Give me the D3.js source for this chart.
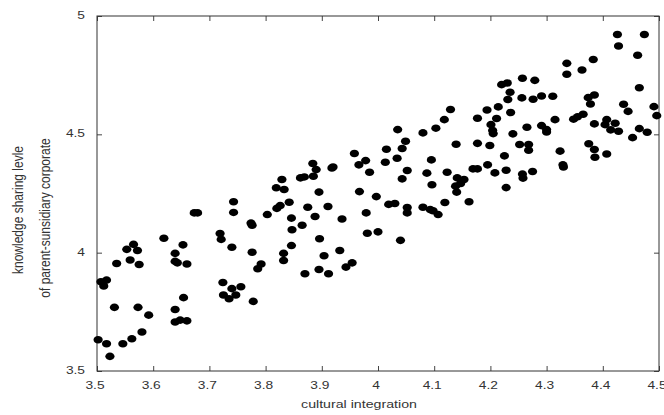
<!DOCTYPE html>
<html>
<head>
<meta charset="utf-8">
<script src="https://cdn.jsdelivr.net/npm/d3@7"></script>
<style>
  body { margin: 0; background: #fff; }
  text { font-family: "Liberation Sans", Arial, sans-serif; fill: #333; }
</style>
</head>
<body>
<svg id="chart" width="664" height="415"></svg>
<script>
// cultural integration (x)
var integration = [
  3.502, 3.517, 3.523, 3.507, 3.512, 3.517, 3.531, 3.535, 3.546, 3.553,
  3.559, 3.565, 3.562, 3.572, 3.573, 3.575, 3.580, 3.592, 3.619, 3.639,
  3.639, 3.639, 3.639, 3.643, 3.648, 3.653, 3.654, 3.660, 3.660, 3.673,
  3.679, 3.719, 3.721, 3.724, 3.725, 3.735, 3.740, 3.743, 3.743, 3.740,
  3.747, 3.756, 3.774, 3.776, 3.776, 3.778, 3.786, 3.792, 3.803, 3.820,
  3.819, 3.829, 3.826, 3.833, 3.832, 3.832, 3.842, 3.846, 3.847, 3.846,
  3.865, 3.862, 3.869, 3.870, 3.875, 3.884, 3.885, 3.890, 3.888, 3.895,
  3.896, 3.895, 3.904, 3.911, 3.912, 3.918, 3.920, 3.936, 3.932, 3.943,
  3.954, 3.958, 3.966, 3.967, 3.978, 3.979, 3.981, 3.985, 3.997, 4.000,
  4.013, 4.015, 4.019, 4.030, 4.034, 4.035, 4.040, 4.043, 4.043, 4.049,
  4.052, 4.052, 4.052, 4.080, 4.080, 4.087, 4.093, 4.095, 4.096, 4.098,
  4.103, 4.107, 4.118, 4.119, 4.123, 4.129, 4.138, 4.139, 4.140, 4.141,
  4.147, 4.153, 4.162, 4.169, 4.177, 4.177, 4.177, 4.194, 4.195, 4.199,
  4.201, 4.204, 4.205, 4.208, 4.211, 4.214, 4.220, 4.225, 4.228, 4.228,
  4.231, 4.230, 4.235, 4.236, 4.240, 4.252, 4.257, 4.257, 4.258, 4.256,
  4.265, 4.268, 4.268, 4.275, 4.276, 4.279, 4.291, 4.291, 4.300, 4.300,
  4.311, 4.315, 4.324, 4.329, 4.330, 4.336, 4.336, 4.348, 4.355, 4.363,
  4.365, 4.374, 4.378, 4.375, 4.383, 4.385, 4.385, 4.385, 4.386, 4.404,
  4.407, 4.407, 4.414, 4.422, 4.426, 4.428, 4.428, 4.437, 4.445, 4.453,
  4.462, 4.465, 4.465, 4.474, 4.479, 4.491, 4.496
];

// knowledge sharing level (y), same order
var sharing = [
  3.632, 3.615, 3.562, 3.877, 3.859, 3.884, 3.769, 3.954, 3.615, 4.014,
  3.969, 4.035, 3.636, 4.009, 3.769, 3.950, 3.665, 3.736, 4.061, 3.997,
  3.963, 3.760, 3.707, 3.957, 3.715, 4.033, 3.810, 3.712, 3.952, 4.168,
  4.168, 4.081, 4.056, 3.874, 3.821, 3.805, 4.023, 4.170, 4.215, 3.848,
  3.821, 3.856, 4.125, 4.116, 4.002, 3.794, 3.932, 3.952, 4.161, 4.187,
  4.274, 4.309, 4.199, 4.267, 3.997, 3.967, 4.213, 4.146, 4.097, 4.030,
  4.116, 4.316, 4.320, 3.911, 4.192, 4.377, 4.323, 4.351, 4.153, 4.256,
  4.059, 3.929, 3.987, 4.195, 3.911, 4.358, 4.362, 4.142, 4.009, 3.939,
  3.957, 4.419, 4.371, 4.258, 4.389, 4.168, 4.082, 4.340, 4.237, 4.088,
  4.382, 4.437, 4.204, 4.208, 4.399, 4.520, 4.052, 4.440, 4.312, 4.471,
  4.347, 4.191, 4.168, 4.506, 4.192, 4.336, 4.182, 4.392, 4.287, 4.177,
  4.526, 4.161, 4.562, 4.212, 4.340, 4.605, 4.281, 4.458, 4.256, 4.316,
  4.292, 4.309, 4.215, 4.354, 4.568, 4.462, 4.354, 4.603, 4.371, 4.453,
  4.541, 4.516, 4.503, 4.337, 4.567, 4.616, 4.710, 4.409, 4.348, 4.275,
  4.647, 4.717, 4.678, 4.592, 4.502, 4.457, 4.737, 4.332, 4.315, 4.654,
  4.530, 4.457, 4.433, 4.343, 4.648, 4.728, 4.662, 4.537, 4.510, 4.520,
  4.661, 4.562, 4.429, 4.371, 4.362, 4.800, 4.754, 4.564, 4.574, 4.772,
  4.585, 4.655, 4.628, 4.460, 4.816, 4.666, 4.544, 4.436, 4.403, 4.541,
  4.562, 4.417, 4.519, 4.547, 4.922, 4.873, 4.513, 4.627, 4.597, 4.486,
  4.834, 4.697, 4.524, 4.922, 4.509, 4.617, 4.579
];

var xTicks = [3.5, 3.6, 3.7, 3.8, 3.9, 4, 4.1, 4.2, 4.3, 4.4, 4.5];
var yTicks = [3.5, 4, 4.5, 5];

var xTitle = "cultural integration";
var yTitle = ["knowledge sharing levle", "of parent-sunsidiary corporate"];

var svg = d3.select("#chart");
var margin = {top: 16, right: 5, bottom: 44, left: 97};
var width = +svg.attr("width") - margin.left - margin.right,
    height = +svg.attr("height") - margin.top - margin.bottom;

var x = d3.scaleLinear().domain([3.5, 4.5]).range([0, width]);
var y = d3.scaleLinear().domain([3.5, 5]).range([height, 0]);

var g = svg.append("g")
    .attr("transform", "translate(" + margin.left + "," + margin.top + ")");

// inward ticks on all four sides, labels drawn separately
function tickStyle(sel) {
    sel.select(".domain").remove();
    sel.selectAll(".tick line").attr("stroke", "#444");
    sel.selectAll(".tick text").remove();
}
g.append("g").attr("transform", "translate(0," + height + ")")
    .call(d3.axisBottom(x).tickValues(xTicks).tickSizeInner(-5)).call(tickStyle);
g.append("g")
    .call(d3.axisTop(x).tickValues(xTicks).tickSizeInner(-5)).call(tickStyle);
g.append("g")
    .call(d3.axisLeft(y).tickValues(yTicks).tickSizeInner(-5)).call(tickStyle);
g.append("g").attr("transform", "translate(" + width + ",0)")
    .call(d3.axisRight(y).tickValues(yTicks).tickSizeInner(-5)).call(tickStyle);

// frame
g.append("rect")
    .attr("width", width).attr("height", height)
    .attr("fill", "none").attr("stroke", "#333").attr("stroke-width", 1);

// tick labels (picture is stretched sideways, so the text is too)
g.selectAll(".xlab").data(xTicks).enter().append("text")
    .attr("class", "xlab")
    .attr("transform", function(d) { return "translate(" + (x(d) - 2) + "," + (height + 18) + ") scale(1.25,1)"; })
    .attr("text-anchor", "middle")
    .style("font-size", "11px")
    .text(function(d) { return d; });

g.selectAll(".ylab").data(yTicks).enter().append("text")
    .attr("class", "ylab")
    .attr("transform", function(d) { return "translate(-12," + (y(d) + 3) + ") scale(1.25,1)"; })
    .attr("text-anchor", "end")
    .style("font-size", "11px")
    .text(function(d) { return d; });

// axis titles
svg.append("text")
    .attr("transform", "translate(359,408) scale(1.29,1)")
    .attr("text-anchor", "middle")
    .style("font-size", "11px")
    .text(xTitle);

svg.append("text")
    .attr("transform", "translate(23,210) scale(1.2,1) rotate(-90)")
    .attr("text-anchor", "middle")
    .style("font-size", "12px")
    .text(yTitle[0]);
svg.append("text")
    .attr("transform", "translate(50,218) scale(1.2,1) rotate(-90)")
    .attr("text-anchor", "middle")
    .style("font-size", "12px")
    .text(yTitle[1]);

// points
g.selectAll("ellipse").data(d3.range(integration.length)).enter().append("ellipse")
    .attr("cx", function(i) { return x(integration[i]); })
    .attr("cy", function(i) { return y(sharing[i]); })
    .attr("rx", 4.6)
    .attr("ry", 3.8)
    .attr("fill", "#000");
</script>
</body>
</html>
